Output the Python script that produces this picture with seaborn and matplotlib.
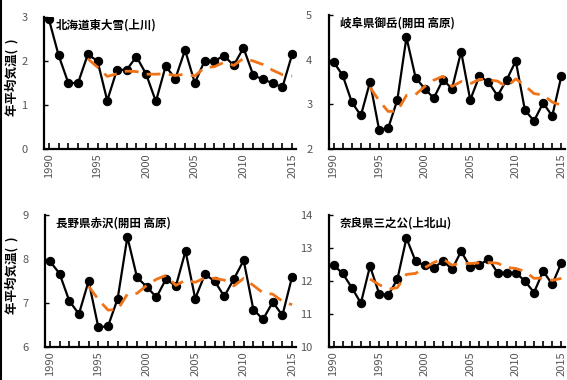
import matplotlib
matplotlib.use("Agg")
import matplotlib.pyplot as plt
import seaborn as sns
import pandas as pd
from matplotlib.lines import Line2D

sns.set_theme(style="white")
plt.rcParams["font.family"] = ["Noto Sans CJK JP", "DejaVu Sans"]

years = list(range(1990, 2016))
ma_years = list(range(1994, 2016))

titles = ["北海道東大雪(上川)", "岐阜県御岳(開田 高原)", "長野県赤沢(開田 高原)", "奈良県三之公(上北山)"]

temp_higashitaisetsu = [2.95, 2.13, 1.5, 1.5, 2.15, 2.0, 1.1, 1.8, 1.8, 2.1, 1.7, 1.08, 1.88,
                        1.6, 2.25, 1.5, 2.0, 2.0, 2.12, 1.9, 2.3, 1.68, 1.58, 1.5, 1.4, 2.15]
temp_ontake = [3.95, 3.65, 3.05, 2.75, 3.5, 2.43, 2.47, 3.1, 4.5, 3.6, 3.35, 3.14, 3.55,
               3.35, 4.18, 3.1, 3.63, 3.5, 3.19, 3.55, 3.97, 2.87, 2.63, 3.03, 2.74, 3.63]
temp_akasawa = [7.95, 7.67, 7.05, 6.75, 7.5, 6.45, 6.47, 7.1, 8.5, 7.58, 7.37, 7.13, 7.55,
                7.38, 8.18, 7.1, 7.65, 7.5, 7.15, 7.55, 7.97, 6.85, 6.63, 7.02, 6.72, 7.6]
temp_sannoko = [12.48, 12.23, 11.8, 11.33, 12.45, 11.62, 11.57, 12.05, 13.3, 12.6, 12.47, 12.38, 12.62,
                12.35, 12.9, 12.42, 12.47, 12.68, 12.25, 12.25, 12.25, 12.0, 11.65, 12.3, 11.9, 12.55]

# 5-year running means, 1994-2015
ma_higashitaisetsu = [2.05, 1.86, 1.65, 1.71, 1.77, 1.76, 1.70, 1.70, 1.71, 1.67, 1.70,
                      1.66, 1.85, 1.87, 1.97, 1.90, 2.06, 2.00, 1.92, 1.79, 1.69, 1.66]
ma_ontake = [3.38, 3.08, 2.84, 2.85, 3.20, 3.22, 3.40, 3.54, 3.63, 3.40, 3.51,
             3.46, 3.56, 3.55, 3.52, 3.39, 3.57, 3.42, 3.24, 3.21, 3.05, 2.98]
ma_akasawa = [7.38, 7.08, 6.84, 6.85, 7.20, 7.22, 7.40, 7.54, 7.63, 7.40, 7.52,
              7.47, 7.57, 7.56, 7.52, 7.39, 7.56, 7.40, 7.23, 7.20, 7.04, 6.96]
ma_sannoko = [12.06, 11.89, 11.75, 11.80, 12.20, 12.23, 12.40, 12.56, 12.67, 12.48, 12.54,
              12.53, 12.55, 12.56, 12.54, 12.41, 12.38, 12.29, 12.08, 12.09, 12.02, 12.08]

series = [temp_higashitaisetsu, temp_ontake, temp_akasawa, temp_sannoko]
running = [ma_higashitaisetsu, ma_ontake, ma_akasawa, ma_sannoko]
y_ranges = [(0, 3), (2, 5), (6, 9), (10, 14)]
ylabel = "年平均気温(  )"

W, H = 567, 380
fig = plt.figure(figsize=(W / 100, H / 100), dpi=100)
# axes boxes in pixels: left, top, right, bottom
boxes = [(44, 17, 296, 149), (329, 15, 565, 149), (45, 215, 296, 347), (329, 215, 565, 347)]
tick_color = "#555555"

for i, (b, vals, ma, yr, title) in enumerate(zip(boxes, series, running, y_ranges, titles)):
    l, t, r, bt = b
    ax = fig.add_axes([l / W, 1 - bt / H, (r - l) / W, (bt - t) / H])
    df = pd.DataFrame({"year": years, "temp": vals})
    dm = pd.DataFrame({"year": ma_years, "ma": ma})
    sns.lineplot(data=df, x="year", y="temp", ax=ax, color="black", linewidth=1.6,
                 marker="o", markersize=6, markeredgecolor="black", markerfacecolor="black")
    sns.lineplot(data=dm, x="year", y="ma", ax=ax, color="#f07318", linewidth=2.0)
    ax.lines[-1].set_dashes((5, 3))
    ax.set_xlim(1989.5, 2015.4)
    ax.set_ylim(*yr)
    ax.set_yticks(range(yr[0], yr[1] + 1))
    ax.set_xticks(range(1990, 2016, 5))
    ax.set_xticks(range(1990, 2016), minor=True)
    ax.tick_params(axis="x", which="both", direction="in", length=4, width=1.2,
                   color="black", bottom=True, labelrotation=90, labelsize=8,
                   labelcolor=tick_color, pad=3)
    ax.tick_params(axis="y", direction="in", length=3, width=1, color="black", left=True,
                   labelsize=8, labelcolor=tick_color, pad=12)
    for side in ("top", "right"):
        ax.spines[side].set_visible(False)
    for side in ("left", "bottom"):
        ax.spines[side].set_color("black")
        ax.spines[side].set_linewidth(1.6)
    ax.set_xlabel("")
    ax.set_ylabel("")
    ax.grid(False)
    ax.text(0.045, 0.985, title, transform=ax.transAxes, ha="left", va="top",
            fontsize=8.3, fontweight="bold", color="black")
    if i % 2 == 0:
        fig.text(12 / W, 1 - ((t + bt) / 2 - 6) / H, ylabel, rotation=90, ha="center",
                 va="center", fontsize=9, fontweight="bold", color="black")

# dark rule along the left edge of the figure
fig.add_artist(Line2D([0.5 / W, 0.5 / W], [0, 1], transform=fig.transFigure,
                      color="black", linewidth=1.5))

fig.savefig("out.png", dpi=100)
